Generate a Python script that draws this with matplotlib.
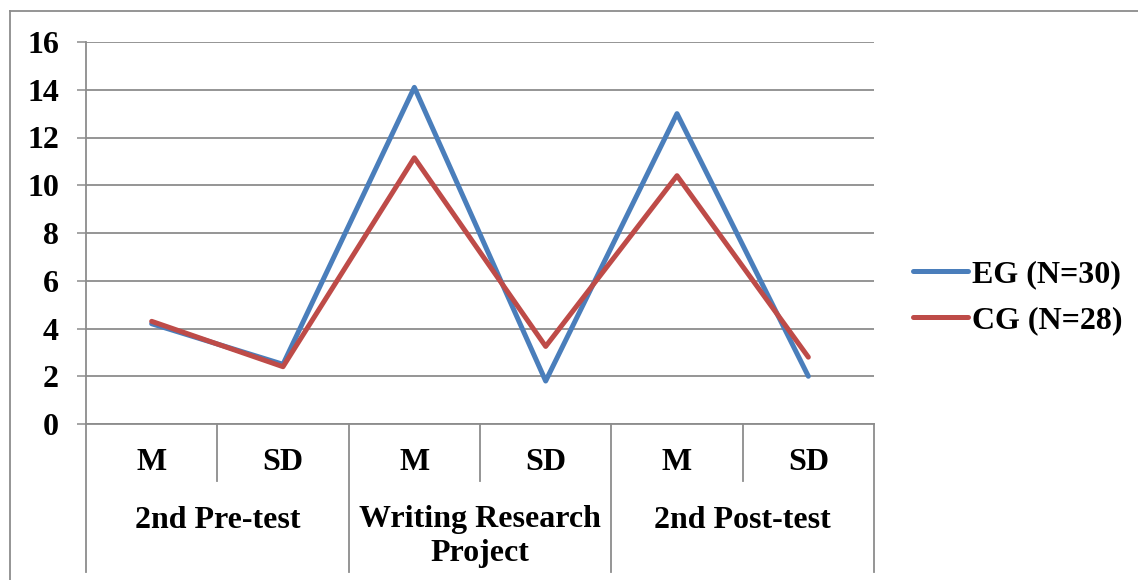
import matplotlib
matplotlib.use("Agg")
import matplotlib.pyplot as plt
from matplotlib.lines import Line2D

# Scores by test and statistic
stats = ["M", "SD", "M", "SD", "M", "SD"]
groups = ["2nd Pre-test", "Writing Research\nProject", "2nd Post-test"]
eg_values = [4.2, 2.5, 14.1, 1.8, 13.0, 2.0]
cg_values = [4.3, 2.4, 11.15, 3.25, 10.4, 2.8]
series_labels = ["EG (N=30)", "CG (N=28)"]
yticks = [0, 2, 4, 6, 8, 10, 12, 14, 16]

W, H = 1138, 580
plt.rcParams["font.family"] = ["Liberation Serif", "DejaVu Serif"]
plt.rcParams["font.weight"] = "bold"
FS = 23
GRID = "#8c8c8c"

fig = plt.figure(figsize=(W / 100, H / 100), dpi=100)
fig.patch.set_facecolor("white")

# plot area in pixel units
px_left, px_right, px_top, px_bottom = 86, 874, 42, 424
ax = fig.add_axes([px_left / W, 1 - px_bottom / H,
                   (px_right - px_left) / W, (px_bottom - px_top) / H])

x = list(range(len(stats)))
ax.plot(x, eg_values, color="#4a7ebb", lw=3.6, solid_capstyle="round",
        solid_joinstyle="round", label=series_labels[0], zorder=3)
ax.plot(x, cg_values, color="#be4b48", lw=3.6, solid_capstyle="round",
        solid_joinstyle="round", label=series_labels[1], zorder=4)

ax.set_xlim(-0.5, len(stats) - 0.5)
ax.set_ylim(0, 16)
ax.set_yticks(yticks)
ax.set_yticklabels([str(t) for t in yticks], fontsize=FS, fontweight="bold")
ax.tick_params(axis="y", length=6.5, width=1.1, color=GRID, pad=13)
ax.set_xticks([])
ax.yaxis.grid(True, color=GRID, lw=1.3)
ax.set_axisbelow(True)
for side in ["top", "right"]:
    ax.spines[side].set_visible(False)
ax.spines["left"].set_color(GRID)
ax.spines["left"].set_linewidth(1.3)
ax.spines["bottom"].set_color(GRID)
ax.spines["bottom"].set_linewidth(1.3)


def ay(py):
    # pixel row -> axes fraction
    return (px_bottom - py) / (px_bottom - px_top)


trans = ax.get_xaxis_transform()

# category table lines below the axis
for i in range(1, len(stats)):
    bottom = 572 if i % 2 == 0 else 481
    ax.add_line(Line2D([i - 0.5, i - 0.5], [0, ay(bottom)], transform=trans,
                       color=GRID, lw=1.3, clip_on=False))
for xe in [-0.5, len(stats) - 0.5]:
    ax.add_line(Line2D([xe, xe], [0, ay(572)], transform=trans,
                       color=GRID, lw=1.3, clip_on=False))

for i, s in enumerate(stats):
    ax.text(i, ay(463), s, transform=trans, ha="center", va="center",
            fontsize=FS, fontweight="bold")
for j, g in enumerate(groups):
    lines = g.split("\n")
    for k, line in enumerate(lines):
        ax.text(2 * j + 0.5, ay(520 + 33 * k), line, transform=trans,
                ha="center", va="center", fontsize=FS, fontweight="bold")

# outer chart border (left and top)
fig.add_artist(Line2D([10 / W, 10 / W], [0, 1 - 11 / H], color=GRID, lw=1.3))
fig.add_artist(Line2D([10 / W, 1], [1 - 11 / H, 1 - 11 / H], color=GRID, lw=1.3))

fig.legend(loc="center left", bbox_to_anchor=(913 / W, 1 - 297.5 / H),
           frameon=False, fontsize=FS, prop={"weight": "bold", "size": FS},
           handlelength=1.72, handletextpad=0.12, labelspacing=0.5,
           borderpad=0, borderaxespad=0)

fig.savefig("out.png", dpi=100, facecolor="white")
